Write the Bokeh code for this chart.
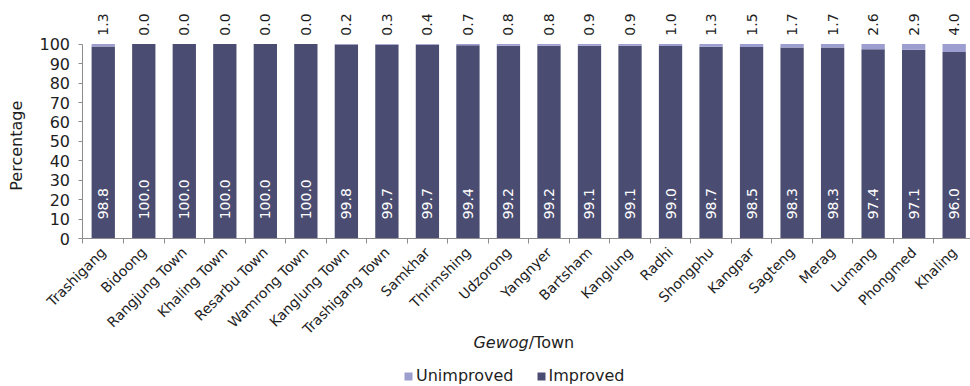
import math
from bokeh.plotting import figure
from bokeh.models import (ColumnDataSource, Range1d, FixedTicker, Label, Legend, LegendItem)
from bokeh.core.properties import value
from bokeh.embed import file_html
from bokeh.resources import INLINE

# ---- data ----
towns = ["Trashigang", "Bidoong", "Rangjung Town", "Khaling Town", "Resarbu Town",
         "Wamrong Town", "Kanglung Town", "Trashigang Town", "Samkhar", "Thrimshing",
         "Udzorong", "Yangnyer", "Bartsham", "Kanglung", "Radhi", "Shongphu",
         "Kangpar", "Sagteng", "Merag", "Lumang", "Phongmed", "Khaling"]
improved = [98.8, 100.0, 100.0, 100.0, 100.0, 100.0, 99.8, 99.7, 99.7, 99.4, 99.2,
            99.2, 99.1, 99.1, 99.0, 98.7, 98.5, 98.3, 98.3, 97.4, 97.1, 96.0]
unimproved = [1.3, 0.0, 0.0, 0.0, 0.0, 0.0, 0.2, 0.3, 0.4, 0.7, 0.8,
              0.8, 0.9, 0.9, 1.0, 1.3, 1.5, 1.7, 1.7, 2.6, 2.9, 4.0]
y_ticks = list(range(0, 101, 10))

FONT = "DejaVu Sans"
DARK = "#4A4D71"
LIGHT = "#9C9ECF"
TXT = "#1e1e1e"
AXIS = "#8c8c8c"

xs = list(range(len(towns)))
src = ColumnDataSource(dict(
    x=xs, improved=improved, unimproved=unimproved,
    imp_lbl=[f"{v:.1f}" for v in improved],
    unimp_lbl=[f"{v:.1f}" for v in unimproved],
))

# frame spans the whole canvas; axes are drawn at fixed locations inside it
p = figure(width=970, height=386, output_backend="svg", toolbar_location=None,
           x_range=Range1d(-2.536, 21.403), y_range=Range1d(-75.86, 122.39),
           min_border=0, min_border_left=0, min_border_right=0,
           min_border_top=0, min_border_bottom=0)
p.outline_line_color = None
p.xgrid.visible = False
p.ygrid.visible = False
p.background_fill_color = "white"
p.border_fill_color = "white"

rs = p.vbar_stack(["improved", "unimproved"], x="x", width=0.575,
                  color=[DARK, LIGHT], line_color=None, source=src)

# value labels
p.text(x="x", y=10, text="imp_lbl", source=src, angle=math.pi / 2,
       text_align="left", text_baseline="middle", text_color="white",
       text_font=value(FONT), text_font_size="14px")
p.text(x="x", y=104.3, text="unimp_lbl", source=src, angle=math.pi / 2,
       text_align="left", text_baseline="middle", text_color=TXT,
       text_font=value(FONT), text_font_size="14px")

# y axis
ya = p.yaxis[0]
ya.fixed_location = -0.5
ya.bounds = (0, 100)
ya.ticker = FixedTicker(ticks=y_ticks)
ya.major_tick_out = 4
ya.major_tick_in = 0
ya.minor_tick_out = 0
ya.minor_tick_in = 0
ya.axis_line_color = AXIS
ya.major_tick_line_color = AXIS
ya.major_label_text_font = FONT
ya.major_label_text_font_size = "16px"
ya.major_label_text_color = TXT
ya.major_label_standoff = 9

# x axis
xa = p.xaxis[0]
xa.fixed_location = 0
xa.bounds = (-0.5, 21.5)
xa.ticker = FixedTicker(ticks=xs, minor_ticks=[i - 0.5 for i in range(len(towns) + 1)])
xa.major_label_overrides = {i: t for i, t in zip(xs, towns)}
xa.major_label_orientation = math.pi / 4
xa.major_tick_out = 0
xa.major_tick_in = 0
xa.minor_tick_out = 5
xa.minor_tick_in = 0
xa.axis_line_color = AXIS
xa.minor_tick_line_color = AXIS
xa.major_label_text_font = FONT
xa.major_label_text_font_size = "14px"
xa.major_label_text_color = TXT
xa.major_label_standoff = 6

# axis titles
p.add_layout(Label(x=-2.14, y=47.8, text="Percentage", angle=math.pi / 2,
                   text_align="center", text_baseline="middle",
                   text_font=FONT, text_font_size="16px", text_color=TXT))
p.add_layout(Label(x=10.5, y=-53.2, text="Gewog", text_align="right",
                   text_baseline="middle", text_font=FONT, text_font_size="16px",
                   text_font_style="italic", text_color=TXT))
p.add_layout(Label(x=10.5, y=-53.2, text="/Town", text_align="left",
                   text_baseline="middle", text_font=FONT, text_font_size="16px",
                   text_color=TXT))

# legend
legend = Legend(items=[LegendItem(label="Unimproved", renderers=[rs[1]]),
                       LegendItem(label="Improved", renderers=[rs[0]])],
                orientation="horizontal", location=(403, 1),
                glyph_width=10, glyph_height=10, label_standoff=3, spacing=22,
                padding=0, margin=0, border_line_color=None,
                background_fill_alpha=0, label_text_font=FONT,
                label_text_font_size="16px", label_text_color=TXT,
                label_height=19)
p.add_layout(legend, "center")

open("out.html", "w").write(file_html(p, INLINE))
